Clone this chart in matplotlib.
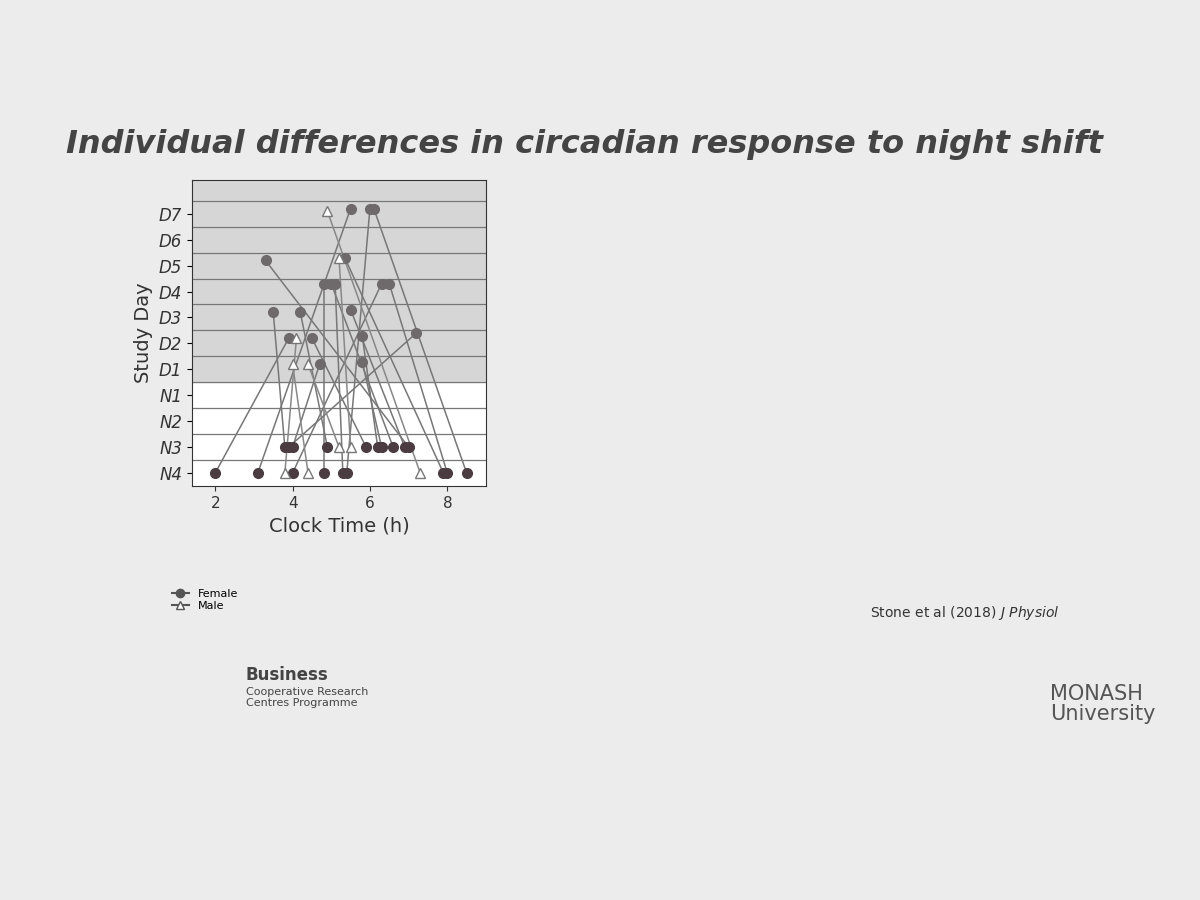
import matplotlib.pyplot as plt
from matplotlib.lines import Line2D

day_labels = ['N4', 'N3', 'N2', 'N1', 'D1', 'D2', 'D3', 'D4', 'D5', 'D6', 'D7']

# each subject: night-shift phase (x, day index) -> later phase (x, day index)
female_start_x = [2.0, 3.1, 4.0, 3.9, 4.8, 5.3, 5.4, 7.9, 8.0, 8.5, 3.8, 4.0, 4.9, 5.9, 6.2, 6.3, 6.6, 6.9, 7.0]
female_start_y = [0, 0, 0, 1, 0, 0, 0, 0, 0, 0, 1, 1, 1, 1, 1, 1, 1, 1, 1]
female_end_x = [3.9, 5.5, 6.3, 7.2, 4.8, 5.1, 6.0, 5.35, 6.5, 6.1, 3.5, 4.7, 4.2, 4.5, 5.8, 5.8, 5.0, 5.5, 3.3]
female_end_y = [5.2, 10.2, 7.3, 5.4, 7.3, 7.3, 10.2, 8.3, 7.3, 10.2, 6.2, 4.2, 6.2, 5.2, 5.3, 4.3, 7.3, 6.3, 8.2]

male_start_x = [3.8, 4.4, 7.3, 5.2, 5.5]
male_start_y = [0, 0, 0, 1, 1]
male_end_x = [4.1, 4.0, 4.9, 4.4, 5.2]
male_end_y = [5.2, 4.2, 10.1, 4.2, 8.3]

fig = plt.figure(figsize=(12, 9), dpi=100)
fig.patch.set_facecolor('#ececec')

fig.text(0.055, 0.83, 'Individual differences in circadian response to night shift',
         fontsize=23, fontweight='bold', style='italic', color='#444444')

ax = fig.add_axes([0.16, 0.46, 0.245, 0.34])
ax.set_facecolor('white')
ax.axhspan(3.5, 11.5, color='#d6d6d6', zorder=0)
for y in [i + 0.5 for i in range(11)]:
    ax.axhline(y, color='#777777', lw=0.9, zorder=1)

for sx, sy, ex, ey in zip(female_start_x, female_start_y, female_end_x, female_end_y):
    ax.plot([sx, ex], [sy, ey], color='#777777', lw=1.1, zorder=2)
    ax.plot([sx], [sy], 'o', color='#4a3c40', ms=7, zorder=3)
    ax.plot([ex], [ey], 'o', color='#6e6a6b', ms=7, zorder=3)
for sx, sy, ex, ey in zip(male_start_x, male_start_y, male_end_x, male_end_y):
    ax.plot([sx, ex], [sy, ey], color='#888888', lw=1.1, zorder=2)
    ax.plot([sx, ex], [sy, ey], '^', mfc='white', mec='#777777', ms=7, zorder=3)

ax.set_xlim(1.4, 9.0)
ax.set_ylim(-0.5, 11.3)
ax.set_xticks([2, 4, 6, 8])
ax.set_yticks(range(len(day_labels)))
ax.set_yticklabels(day_labels, fontsize=12, style='italic', color='#333333')
ax.tick_params(axis='x', labelsize=11, colors='#333333')
ax.set_xlabel('Clock Time (h)', fontsize=14, color='#333333')
ax.set_ylabel('Study Day', fontsize=14, color='#333333')
for s in ax.spines.values():
    s.set_color('#333333')

handles = [Line2D([], [], color='#555555', marker='o', ms=6, label='Female'),
           Line2D([], [], color='#555555', marker='^', mfc='white', ms=6, label='Male')]
fig.legend(handles=handles, loc='lower left', bbox_to_anchor=(0.135, 0.31),
           frameon=False, fontsize=8, handlelength=1.5, labelspacing=0.2)

fig.text(0.725, 0.315, 'Stone et al (2018) $\\it{J\\ Physiol}$', fontsize=10, color='#333333')

fig.text(0.205, 0.245, 'Business', fontsize=12, fontweight='bold', color='#444444')
fig.text(0.205, 0.215, 'Cooperative Research\nCentres Programme', fontsize=8, color='#444444')
fig.text(0.875, 0.2, 'MONASH\nUniversity', fontsize=15, color='#555555', linespacing=1.0)

fig.savefig('out.png')
